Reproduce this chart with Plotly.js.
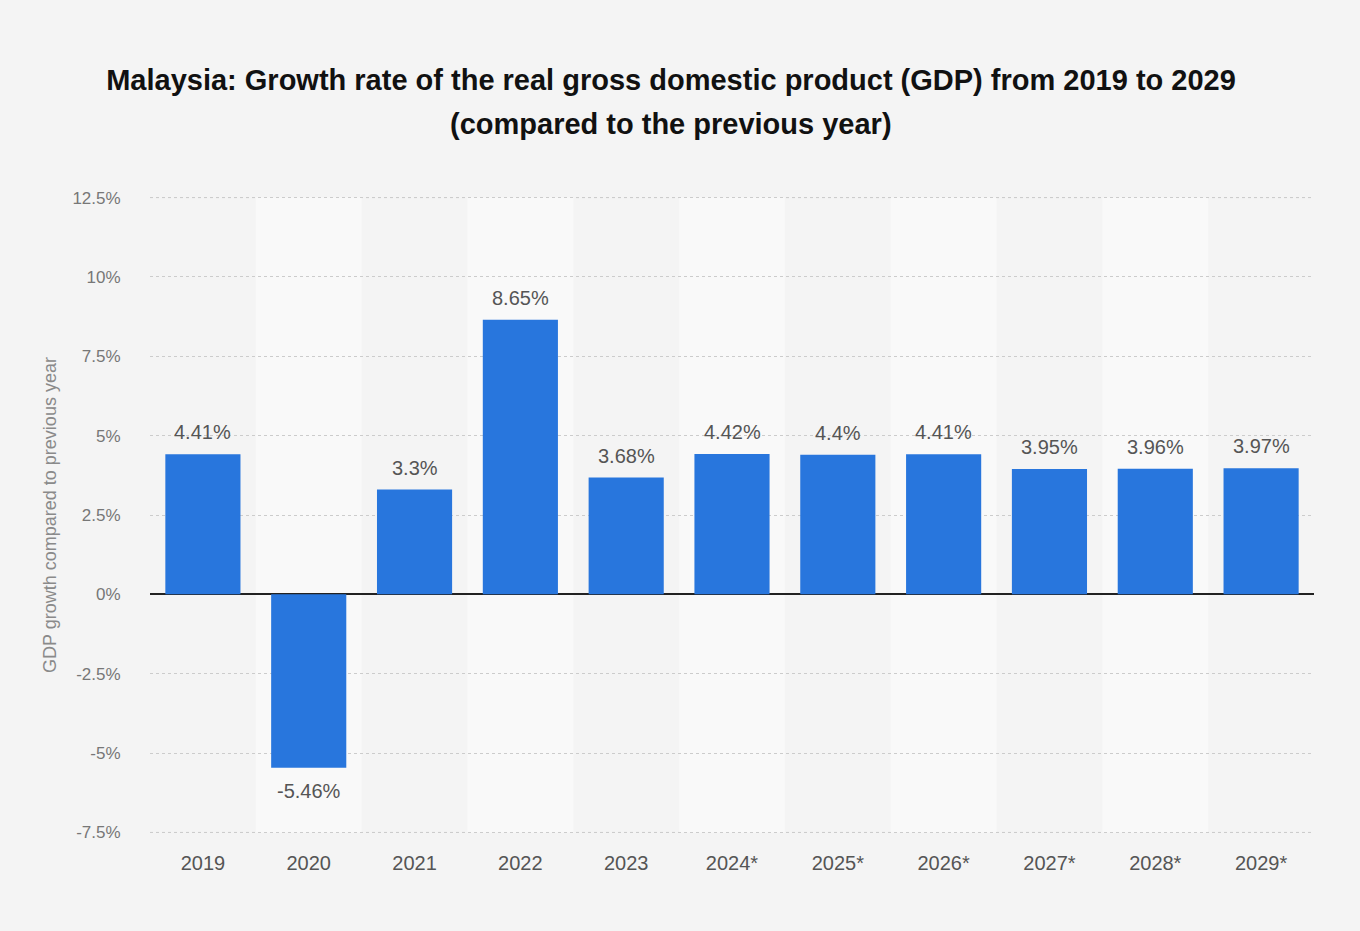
<!DOCTYPE html>
<html>
<head>
<meta charset="utf-8">
<script src="https://cdn.plot.ly/plotly-3.0.1.min.js"></script>
<style>
  html, body { margin: 0; padding: 0; background: #f4f4f4; }
  #chart { width: 1360px; height: 931px; }
</style>
</head>
<body>
<div id="chart"></div>
<script>
const years = ["2019", "2020", "2021", "2022", "2023", "2024*", "2025*", "2026*", "2027*", "2028*", "2029*"];
const growth = [4.41, -5.46, 3.3, 8.65, 3.68, 4.42, 4.4, 4.41, 3.95, 3.96, 3.97];
const yTickVals = [-7.5, -5, -2.5, 0, 2.5, 5, 7.5, 10, 12.5];
const yTickText = ["-7.5%", "-5%", "-2.5%", "0%", "2.5%", "5%", "7.5%", "10%", "12.5%"];
const titleLine1 = "Malaysia: Growth rate of the real gross domestic product (GDP) from 2019 to 2029";
const titleLine2 = "(compared to the previous year)";
const yTitle = "GDP growth compared to previous year";

const FONT = '"Liberation Sans", Arial, Helvetica, sans-serif';

const shapes = [];
years.forEach((y, i) => {
  if (i % 2 === 1) {
    shapes.push({
      type: 'rect', layer: 'below', xref: 'x', yref: 'y',
      x0: i - 0.5, x1: i + 0.5, y0: yTickVals[0], y1: yTickVals[yTickVals.length - 1],
      fillcolor: '#f9f9f9', line: { width: 0 }
    });
  }
});
// edge gridlines (Plotly omits grid lines exactly at the range ends)
[yTickVals[0], yTickVals[yTickVals.length - 1]].forEach(v => {
  shapes.push({
    type: 'line', layer: 'below', xref: 'paper', yref: 'y',
    x0: 0, x1: 1, y0: v, y1: v,
    line: { color: '#cccccc', width: 1, dash: 'dot' }
  });
});

const labels = years.map((y, i) => ({
  x: i, y: growth[i], xref: 'x', yref: 'y',
  text: growth[i] + '%', showarrow: false,
  yanchor: growth[i] >= 0 ? 'bottom' : 'top',
  yshift: growth[i] >= 0 ? 9 : -10,
  font: { family: FONT, size: 20, color: '#555555' }
}));

labels.push({
  text: titleLine2, xref: 'paper', yref: 'paper', x: (671 - 150) / 1164, y: (833 - 125) / 636,
  xanchor: 'center', yanchor: 'middle', showarrow: false,
  font: { family: FONT, size: 29, color: '#111111', weight: 'bold' }
});

const trace = {
  type: 'bar', x: years, y: growth,
  marker: { color: '#2876dd', line: { width: 0 } },
  hoverinfo: 'x+y'
};

const layout = {
  width: 1360, height: 931,
  margin: { l: 150, r: 46, t: 196, b: 97 },
  paper_bgcolor: '#f4f4f4', plot_bgcolor: '#f4f4f4',
  title: {
    text: titleLine1, x: 671 / 1360, xanchor: 'center', xref: 'container',
    y: 1 - 80 / 931, yanchor: 'middle', yref: 'container',
    font: { family: FONT, size: 29, color: '#111111', weight: 'bold' }
  },
  bargap: 0.29,
  showlegend: false,
  xaxis: {
    type: 'category', categoryorder: 'array', categoryarray: years,
    range: [-0.5, years.length - 0.5], autorange: false,
    showgrid: false, zeroline: false, showline: false,
    ticks: 'outside', ticklen: 11, tickcolor: 'rgba(0,0,0,0)',
    tickfont: { family: FONT, size: 20, color: '#555555' },
    fixedrange: true
  },
  yaxis: {
    range: [-7.55, 12.55], autorange: false,
    tickvals: yTickVals, ticktext: yTickText,
    showgrid: true, gridcolor: '#cccccc', gridwidth: 1, griddash: 'dot',
    zeroline: true, zerolinecolor: '#222222', zerolinewidth: 2,
    ticks: 'outside', ticklen: 25, tickcolor: 'rgba(0,0,0,0)',
    tickfont: { family: FONT, size: 17, color: '#777777' },
    title: { text: yTitle, standoff: 11, font: { family: FONT, size: 18, color: '#8a8a8a' } },
    fixedrange: true
  },
  shapes: shapes,
  annotations: labels
};

Plotly.newPlot('chart', [trace], layout, { displayModeBar: false, staticPlot: true });
</script>
</body>
</html>
